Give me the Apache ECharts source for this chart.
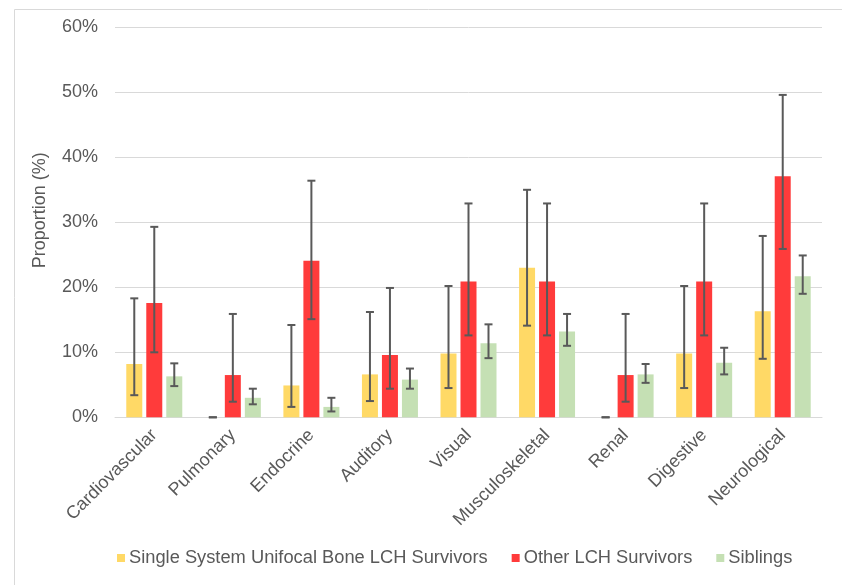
<!DOCTYPE html>
<html>
<head>
<meta charset="utf-8">
<script src="https://cdn.jsdelivr.net/npm/echarts@6/dist/echarts.min.js"></script>
<style>
html,body{margin:0;padding:0;background:#fff;}
#chart{width:842px;height:585px;}
</style>
</head>
<body>
<div id="chart"></div>
<script>
const categories = ['Cardiovascular','Pulmonary','Endocrine','Auditory','Visual','Musculoskeletal','Renal','Digestive','Neurological'];
const seriesNames = ['Single System Unifocal Bone LCH Survivors','Other LCH Survivors','Siblings'];
const yTicks = [0,10,20,30,40,50,60];

const singleValues = [8.2, 0, 4.9, 6.6, 9.8, 23.0, 0, 9.8, 16.3];
const singleLow    = [3.4, 0, 1.6, 2.5, 4.5, 14.1, 0, 4.5, 9.0];
const singleHigh   = [18.3, 0, 14.2, 16.2, 20.2, 35.0, 0, 20.2, 27.9];

const otherValues = [17.6, 6.5, 24.1, 9.6, 20.9, 20.9, 6.5, 20.9, 37.1];
const otherLow    = [10.0, 2.4, 15.1, 4.4, 12.6, 12.6, 2.4, 12.6, 25.9];
const otherHigh   = [29.3, 15.9, 36.4, 19.9, 32.9, 32.9, 15.9, 32.9, 49.6];

const siblingValues = [6.3, 3.0, 1.6, 5.8, 11.4, 13.2, 6.6, 8.4, 21.7];
const siblingLow    = [4.8, 2.0, 0.9, 4.4, 9.1, 11.0, 5.3, 6.6, 19.0];
const siblingHigh   = [8.3, 4.4, 3.0, 7.5, 14.3, 15.9, 8.2, 10.7, 24.9];

const colors = ['#FFD966', '#FF3B3B', '#C5E0B4'];
const textColor = '#595959';
const BAR_W = 16, BAR_GAP = 4;

const allValues = [singleValues, otherValues, siblingValues];
const allLow = [singleLow, otherLow, siblingLow];
const allHigh = [singleHigh, otherHigh, siblingHigh];

function errorSeries(k) {
  const offset = (k - 1) * (BAR_W + BAR_GAP);
  return {
    type: 'custom',
    name: seriesNames[k] + ' error',
    z: 5,
    silent: true,
    data: categories.map((c, i) => [i, allLow[k][i], allHigh[k][i]]),
    encode: { x: 0, y: [1, 2] },
    renderItem: function (params, api) {
      const cx = api.coord([api.value(0), 0])[0] + offset;
      const yLo = api.coord([api.value(0), api.value(1)])[1];
      const yHi = api.coord([api.value(0), api.value(2)])[1];
      const cap = 4;
      const style = { stroke: '#595959', lineWidth: 2 };
      return {
        type: 'group',
        children: [
          { type: 'line', shape: { x1: cx, y1: yLo, x2: cx, y2: yHi }, style: style },
          { type: 'line', shape: { x1: cx - cap, y1: yLo, x2: cx + cap, y2: yLo }, style: style },
          { type: 'line', shape: { x1: cx - cap, y1: yHi, x2: cx + cap, y2: yHi }, style: style }
        ]
      };
    }
  };
}

const chart = echarts.init(document.getElementById('chart'), null, { renderer: 'canvas' });
const font = 'Liberation Sans, Arial, sans-serif';

const option = {
  animation: false,
  textStyle: { fontFamily: font },
  graphic: [{
    type: 'rect', left: 12, top: 7, z: -10,
    shape: { width: 828, height: 600 },
    style: { fill: 'none', stroke: '#D9D9D9', lineWidth: 1 }
  }],
  grid: { left: 115, right: 20, top: 27.3, bottom: 167.7 },
  legend: {
    data: seriesNames,
    bottom: 13,
    left: 112,
    icon: 'rect',
    itemWidth: 8,
    itemHeight: 8,
    itemGap: 24,
    textStyle: { color: textColor, fontSize: 18.3, fontFamily: font, padding: [0, 0, 0, -1] }
  },
  xAxis: {
    type: 'category',
    data: categories,
    axisLine: { show: true, lineStyle: { color: '#D9D9D9', width: 1 } },
    axisTick: { show: false },
    axisLabel: { rotate: 45, color: textColor, fontSize: 18, fontFamily: font, margin: 15, interval: 0 }
  },
  yAxis: {
    type: 'value',
    min: yTicks[0],
    max: yTicks[yTicks.length - 1],
    interval: 10,
    name: 'Proportion (%)',
    nameLocation: 'middle',
    nameGap: 66,
    nameTextStyle: { color: textColor, fontSize: 18, fontFamily: font, padding: [0, 0, 0, 24] },
    axisLine: { show: false },
    axisTick: { show: false },
    splitLine: { lineStyle: { color: '#D9D9D9', width: 1 } },
    axisLabel: { color: textColor, fontSize: 18, fontFamily: font, margin: 17, formatter: '{value}%' }
  },
  series: [
    ...[0, 1, 2].map(k => ({
      type: 'bar',
      name: seriesNames[k],
      data: allValues[k],
      barWidth: BAR_W,
      barGap: (BAR_GAP / BAR_W * 100) + '%',
      itemStyle: { color: colors[k] },
      z: 2
    })),
    errorSeries(0), errorSeries(1), errorSeries(2)
  ]
};
chart.setOption(option);
</script>
</body>
</html>
